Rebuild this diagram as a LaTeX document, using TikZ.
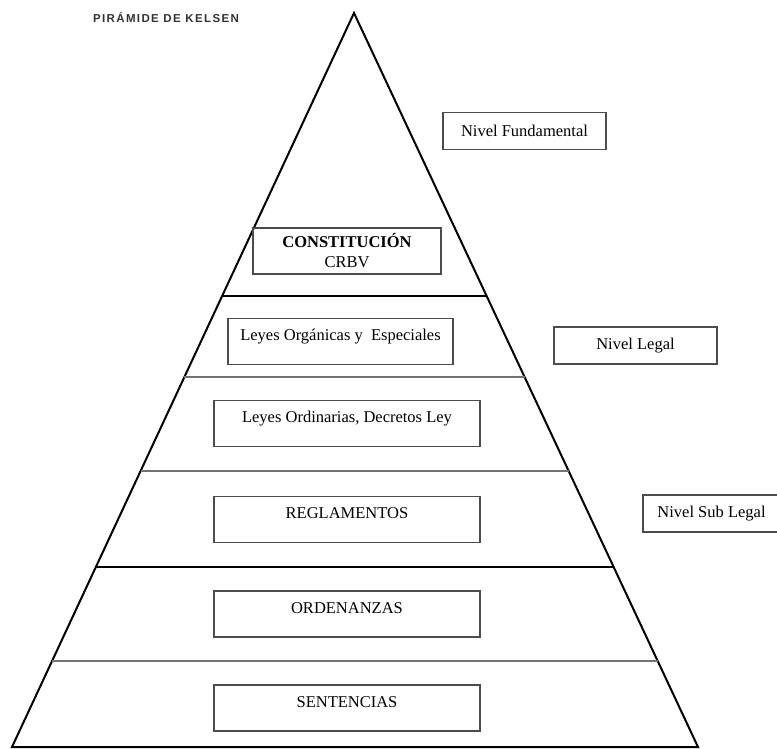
\documentclass[tikz,border=0pt]{standalone}
\usepackage{fontspec}
\setmainfont{Liberation Serif}
\setsansfont{Liberation Sans}
\usetikzlibrary{calc}

\begin{document}
\begin{tikzpicture}[x=1pt,y=-1pt,
    caja/.style={draw=black!70,line width=1.4pt,minimum width=266pt,text height=22pt,text depth=24pt},
    nivel/.style={draw=black!70,line width=1.4pt,minimum width=163pt,minimum height=37pt},
    grada/.style={line width=2pt,black!55},
    corte/.style={line width=2.4pt,black} ]
    \tikzstyle{every node}+=[inner sep=0pt,font=\fontsize{16.5}{20}\selectfont]
    \useasboundingbox (0,0) rectangle (777,749);
    \node (titulo) at (166,17) [font=\sffamily\bfseries\fontsize{11.5}{13}\selectfont\addfontfeature{LetterSpace=12},text=black!80] {PIRÁMIDE DE KELSEN};
    \coordinate (apex) at (354,13);
    \coordinate (bl) at (12,747);
    \coordinate (br) at (698,747);
    \draw [line width=2pt] (apex) -- (bl) -- (br) -- cycle;
    \draw [corte] ($(apex)!0.3856!(bl)$) -- ($(apex)!0.3856!(br)$);
    \draw [grada] ($(apex)!0.4959!(bl)$) -- ($(apex)!0.4959!(br)$);
    \draw [grada] ($(apex)!0.6240!(bl)$) -- ($(apex)!0.6240!(br)$);
    \draw [corte] ($(apex)!0.7548!(bl)$) -- ($(apex)!0.7548!(br)$);
    \draw [grada] ($(apex)!0.8828!(bl)$) -- ($(apex)!0.8828!(br)$);
    \node (crbv) at (347,251) [draw=black!70,line width=1.4pt,minimum width=188pt,minimum height=46pt,align=center] {\textbf{CONSTITUCIÓN}\\CRBV};
    \node (organicas) at (340.5,341.5) [caja,minimum width=225pt] {Leyes Orgánicas y~ Especiales};
    \node (ordinarias) at (347,423.5) [caja] {Leyes Ordinarias, Decretos Ley};
    \node (reglamentos) at (347,519.5) [caja] {REGLAMENTOS};
    \node (ordenanzas) at (347,614) [caja] {ORDENANZAS};
    \node (sentencias) at (347,708) [caja] {SENTENCIAS};
    \node (fundamental) at (524.5,131) [nivel] {Nivel Fundamental};
    \node (legal) at (635.5,345.5) [nivel] {Nivel Legal};
    \node (sublegal) at (711.5,513.5) [nivel,minimum width=137pt] {Nivel Sub Legal};
\end{tikzpicture}
\end{document}
